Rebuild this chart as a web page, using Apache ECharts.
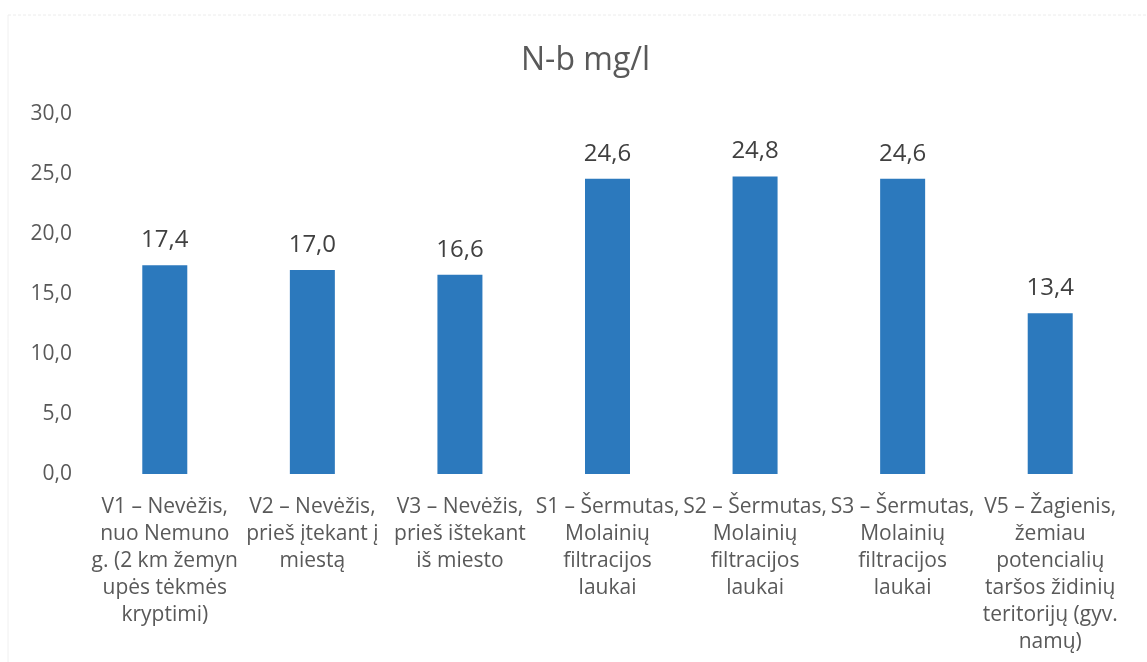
<!DOCTYPE html>
<html>
<head>
<meta charset="utf-8">
<script src="https://cdn.jsdelivr.net/npm/echarts@6/dist/echarts.min.js"></script>
<style>
  html, body { margin: 0; padding: 0; background: #fff; }
  #chart { width: 1147px; height: 662px; }
</style>
</head>
<body>
<div id="chart"></div>
<script>
// kategorijos (x ašis)
const categories = [
  'V1 – Nevėžis,\nnuo Nemuno\ng. (2 km žemyn\nupės tėkmės\nkryptimi)',
  'V2 – Nevėžis,\nprieš įtekant į\nmiestą',
  'V3 – Nevėžis,\nprieš ištekant\niš miesto',
  'S1 – Šermutas,\nMolainių\nfiltracijos\nlaukai',
  'S2 – Šermutas,\nMolainių\nfiltracijos\nlaukai',
  'S3 – Šermutas,\nMolainių\nfiltracijos\nlaukai',
  'V5 – Žagienis,\nžemiau\npotencialių\ntaršos židinių\nteritorijų (gyv.\nnamų)'
];
// N-b mg/l reikšmės
const values = [17.4, 17.0, 16.6, 24.6, 24.8, 24.6, 13.4];
const yTicks = [0, 5, 10, 15, 20, 25, 30];

const fmt = v => v.toFixed(1).replace('.', ',');

const chart = echarts.init(document.getElementById('chart'), null, { renderer: 'canvas' });

const option = {
  backgroundColor: '#ffffff',
  textStyle: { fontFamily: 'Open Sans' },
  title: {
    text: 'N-b mg/l',
    left: 516,
    top: 40,
    textStyle: { fontFamily: 'Open Sans', fontSize: 32, fontWeight: 'normal', color: '#595959' }
  },
  // blyškus skenuoto rėmelio kraštas
  graphic: [
    { type: 'line', shape: { x1: 8, y1: 15, x2: 1147, y2: 15 }, style: { stroke: '#ececec', lineWidth: 1, lineDash: [3, 2] }, silent: true },
    { type: 'line', shape: { x1: 8, y1: 15, x2: 8, y2: 662 }, style: { stroke: '#f0f0f0', lineWidth: 1 }, silent: true }
  ],
  grid: { left: 91, right: 23, top: 114, bottom: 188, containLabel: false },
  xAxis: {
    type: 'category',
    data: categories,
    axisLine: { show: false },
    axisTick: { show: false },
    axisLabel: {
      interval: 0,
      margin: 20,
      color: '#595959',
      fontSize: 21,
      lineHeight: 27,
      fontFamily: 'Open Sans',
      align: 'center'
    }
  },
  yAxis: {
    type: 'value',
    min: yTicks[0],
    max: yTicks[yTicks.length - 1],
    interval: 5,
    axisLine: { show: false },
    axisTick: { show: false },
    splitLine: { show: false },
    axisLabel: {
      margin: 19,
      color: '#595959',
      fontSize: 21,
      fontFamily: 'Open Sans',
      formatter: v => fmt(v)
    }
  },
  series: [{
    type: 'bar',
    data: values,
    barWidth: 45,
    itemStyle: { color: '#2C79BD' },
    label: {
      show: true,
      position: 'top',
      distance: 13,
      color: '#404040',
      fontSize: 24,
      fontFamily: 'Open Sans',
      formatter: p => fmt(p.value)
    }
  }]
};

chart.setOption(option);
</script>
</body>
</html>
